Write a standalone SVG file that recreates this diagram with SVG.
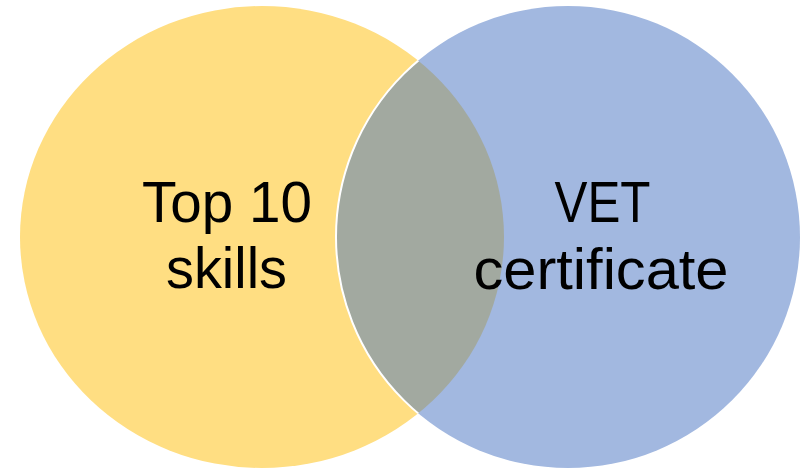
<svg xmlns="http://www.w3.org/2000/svg" width="802" height="468" viewBox="0 0 802 468">
  <style>
    .lbl { font-family: "Liberation Sans", Arial, sans-serif; font-size: 57px; fill: #000000; text-anchor: middle; }
  </style>
  <defs>
    <clipPath id="clipBlue">
      <ellipse cx="568" cy="237" rx="232" ry="231"/>
    </clipPath>
    <clipPath id="clipYellow">
      <ellipse cx="262" cy="237" rx="242" ry="231"/>
    </clipPath>
  </defs>
  <rect width="802" height="468" fill="#FFFFFF"/>
  <g id="set-top10">
    <ellipse cx="262" cy="237" rx="242" ry="231" fill="#FFDE82"/>
  </g>
  <g id="set-vet">
    <ellipse cx="568" cy="237" rx="232" ry="231" fill="#A2B8E0"/>
  </g>
  <g id="overlap">
    <ellipse cx="262" cy="237" rx="242" ry="231" fill="#A2A9A0" clip-path="url(#clipBlue)"/>
    <ellipse cx="568" cy="237" rx="232" ry="231" fill="none" stroke="#FFFFFF" stroke-width="2" clip-path="url(#clipYellow)"/>
  </g>
  <g id="labels">
    <text class="lbl" x="227" y="222" textLength="170" lengthAdjust="spacingAndGlyphs">Top 10</text>
    <text class="lbl" x="226.5" y="288" textLength="121" lengthAdjust="spacingAndGlyphs">skills</text>
    <text class="lbl" x="602.5" y="222" textLength="96" lengthAdjust="spacingAndGlyphs">VET</text>
    <text class="lbl" x="601" y="289" textLength="255" lengthAdjust="spacingAndGlyphs">certificate</text>
  </g>
</svg>
